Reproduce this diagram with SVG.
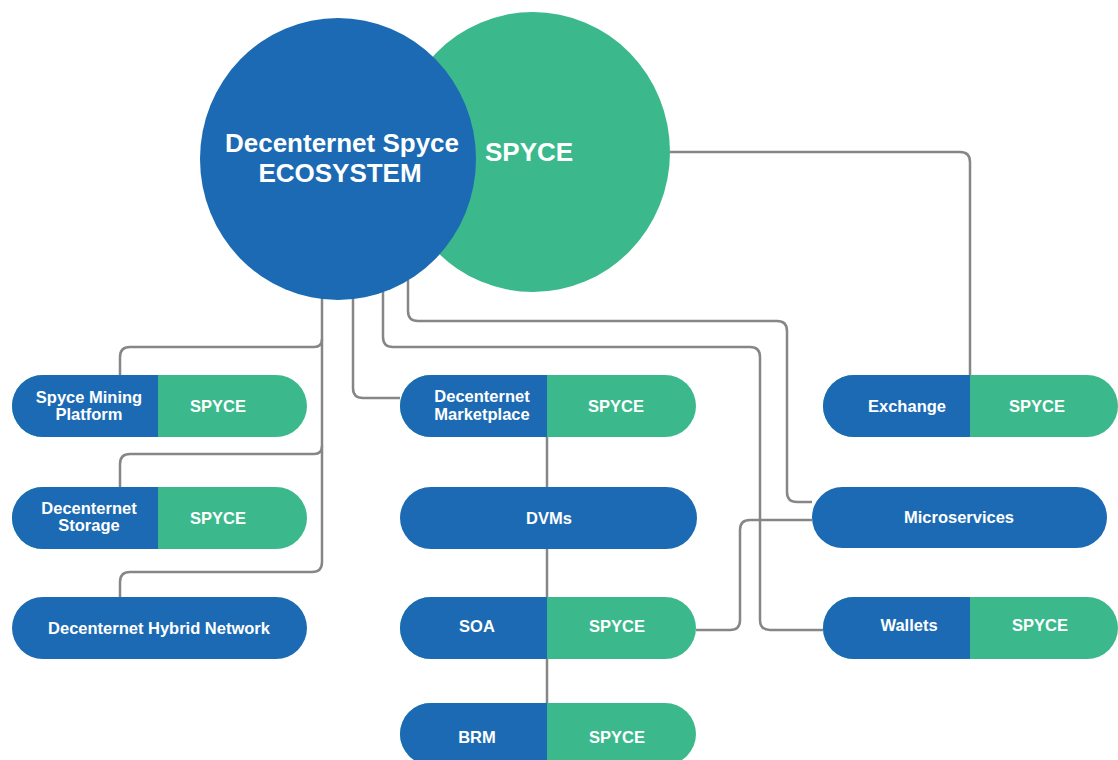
<svg xmlns="http://www.w3.org/2000/svg" width="1118" height="760" viewBox="0 0 1118 760">
<style>
.bg{fill:#ffffff}
.blue{fill:#1b6ab3}
.green{fill:#3cb98c}
.conn{fill:none;stroke:#868686;stroke-width:2.5}
text{font-family:"Liberation Sans",Arial,sans-serif;font-weight:bold;fill:#ffffff}
.pt{font-size:16.5px;text-anchor:middle}
.title{font-size:26px;text-anchor:middle}
</style>
<rect class="bg" x="0" y="0" width="1118" height="760"/>
<g id="connectors">
<path class="conn" d="M670,152 H960 Q970,152 970,162 V375"/>
<path class="conn" d="M322,290 V562 Q322,572 312,572 H130 Q120,572 120,582 V597"/>
<path class="conn" d="M322,339 Q322,347 314,347 H130 Q120,347 120,357 V375"/>
<path class="conn" d="M322,446 Q322,454 314,454 H130 Q120,454 120,464 V487"/>
<path class="conn" d="M353,290 V388 Q353,398 363,398 H400"/>
<path class="conn" d="M383,290 V337 Q383,347 393,347 H750 Q760,347 760,357 V620 Q760,630 770,630 H823"/>
<path class="conn" d="M408,280 V311 Q408,321 418,321 H777 Q787,321 787,331 V492 Q787,502 797,502 H812"/>
<path class="conn" d="M696,630 H730 Q740,630 740,620 V530 Q740,520 750,520 H812"/>
<path class="conn" d="M547,437 V703"/>
</g>
<g id="spyce-circle">
<ellipse class="green" cx="533" cy="152" rx="137" ry="140"/>
<text x="485" y="161" style="font-size:26px">SPYCE</text>
</g>
<g id="ecosystem-circle">
<ellipse class="blue" cx="338" cy="159" rx="138" ry="141"/>
<text class="title" x="342" y="152">Decenternet Spyce</text>
<text class="title" x="340" y="182">ECOSYSTEM</text>
</g>
<g id="spyce-mining">
<rect class="green" x="12" y="375" width="295" height="62" rx="31"/>
<path class="blue" d="M43,375 H158 V437 H43 A31,31 0 0 1 43,375 Z"/>
<text class="pt" x="89" y="403">Spyce Mining</text>
<text class="pt" x="89" y="420">Platform</text>
<text class="pt" x="218" y="412">SPYCE</text>
</g>
<g id="storage">
<rect class="green" x="12" y="487" width="295" height="62" rx="31"/>
<path class="blue" d="M43,487 H158 V549 H43 A31,31 0 0 1 43,487 Z"/>
<text class="pt" x="89" y="514">Decenternet</text>
<text class="pt" x="89" y="531">Storage</text>
<text class="pt" x="218" y="524">SPYCE</text>
</g>
<g id="hybrid">
<rect class="blue" x="12" y="597" width="295" height="62" rx="31"/>
<text class="pt" x="159" y="634">Decenternet Hybrid Network</text>
</g>
<g id="marketplace">
<rect class="green" x="400" y="375" width="296" height="62" rx="31"/>
<path class="blue" d="M431,375 H547 V437 H431 A31,31 0 0 1 431,375 Z"/>
<text class="pt" x="482" y="402">Decenternet</text>
<text class="pt" x="482" y="420">Marketplace</text>
<text class="pt" x="616" y="412">SPYCE</text>
</g>
<g id="dvms">
<rect class="blue" x="400" y="487" width="297" height="62" rx="31"/>
<text class="pt" x="549" y="524">DVMs</text>
</g>
<g id="soa">
<rect class="green" x="400" y="597" width="296" height="62" rx="31"/>
<path class="blue" d="M431,597 H547 V659 H431 A31,31 0 0 1 431,597 Z"/>
<text class="pt" x="477" y="632">SOA</text>
<text class="pt" x="617" y="632">SPYCE</text>
</g>
<g id="brm">
<rect class="green" x="400" y="703" width="296" height="62" rx="31"/>
<path class="blue" d="M431,703 H547 V765 H431 A31,31 0 0 1 431,703 Z"/>
<text class="pt" x="477" y="743">BRM</text>
<text class="pt" x="617" y="743">SPYCE</text>
</g>
<g id="exchange">
<rect class="green" x="823" y="375" width="295" height="62" rx="31"/>
<path class="blue" d="M854,375 H970 V437 H854 A31,31 0 0 1 854,375 Z"/>
<text class="pt" x="907" y="412">Exchange</text>
<text class="pt" x="1037" y="412">SPYCE</text>
</g>
<g id="microservices">
<rect class="blue" x="812" y="487" width="295" height="61" rx="30.5"/>
<text class="pt" x="959" y="523">Microservices</text>
</g>
<g id="wallets">
<rect class="green" x="823" y="597" width="295" height="62" rx="31"/>
<path class="blue" d="M854,597 H970 V659 H854 A31,31 0 0 1 854,597 Z"/>
<text class="pt" x="909" y="631">Wallets</text>
<text class="pt" x="1040" y="631">SPYCE</text>
</g>
</svg>
